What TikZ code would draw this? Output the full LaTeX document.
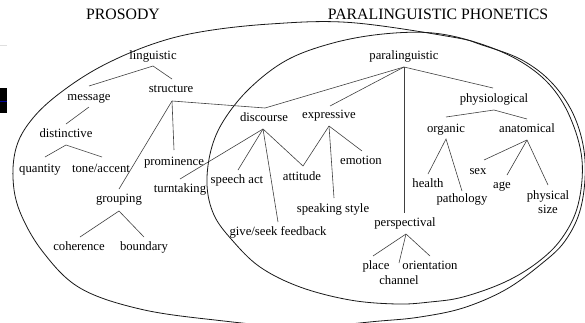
\documentclass[tikz,border=0pt]{standalone}
\usepackage{fontspec}
\setmainfont{Liberation Serif}
\usetikzlibrary{calc}
\newcommand{\lblfont}{\fontsize{12.7}{14.5}\selectfont}
\newcommand{\ttlfont}{\fontsize{15.8}{18}\selectfont}
\tikzset{
  lbl/.style={font=\lblfont, inner sep=0pt, text height=8.6pt, text depth=2.8pt},
  lblml/.style={font=\lblfont, inner sep=0pt, align=center},
  ttl/.style={font=\ttlfont, inner sep=0pt},
  conn/.style={draw=black!75, line width=0.6pt},
  ell/.style={draw=black!90, line width=0.8pt}
}
\begin{document}
\begin{tikzpicture}[x=1pt,y=-1pt]
\useasboundingbox (0,0) rectangle (585,322);
% artifact at left edge
\fill[black] (0,88) rectangle (7,113);
\draw[blue!60!black, line width=0.6pt] (0,101) -- (7,101);
\draw[gray!25, line width=0.6pt] (0,45) -- (7,45);

% ellipses
\draw[ell] plot[smooth cycle, tension=0.6] coordinates {
(13,178) (17,145) (33,118) (60,93) (100,67) (150,45) (200,32) (270,24) (350,22.5)
(452,37) (482,45) (522,60) (553,84) (575,118) (585,160) (581,207) (565,241)
(540,265) (505,290) (463,308) (420,317) (380,321) (300,327) (215,320) (140,309)
(80,288) (43,252) (20,212)};
\draw[ell] plot[smooth cycle, tension=0.6] coordinates {
(207,185) (211,150) (224,120) (250,88) (287,60) (333,43) (383,34) (433,33)
(478,43) (518,60) (549,84) (570,117) (582,160) (578,205) (562,238) (538,262)
(505,282) (463,297) (430,302) (397,304) (350,300) (300,287) (260,267) (232,240)
(214,215)};

% titles
\node[ttl] (prosody) at (123,14) {PROSODY};
\node[ttl] (paraphon) at (438,14) {PARALINGUISTIC PHONETICS};

% labels
\node[lbl] (linguistic) at (153,57) {linguistic};
\node[lbl] (structure) at (171,90) {structure};
\node[lbl] (message) at (89,98) {message};
\node[lbl] (distinctive) at (66,135) {distinctive};
\node[lbl] (quantity) at (40,170) {quantity};
\node[lbl] (toneaccent) at (101,170) {tone/accent};
\node[lbl] (prominence) at (174,163) {prominence};
\node[lbl] (turntaking) at (180,190) {turntaking};
\node[lbl] (grouping) at (119,200) {grouping};
\node[lbl] (coherence) at (79,248) {coherence};
\node[lbl] (boundary) at (144,248) {boundary};
\node[lbl] (discourse) at (264,119) {discourse};
\node[lbl] (expressive) at (329,116) {expressive};
\node[lbl] (speechact) at (237,181) {speech act};
\node[lbl] (attitude) at (302,178) {attitude};
\node[lbl] (emotion) at (361,162) {emotion};
\node[lbl] (speakingstyle) at (333,210) {speaking style};
\node[lbl] (feedback) at (278,233) {give/seek feedback};
\node[lbl] (paralinguistic) at (404,57) {paralinguistic};
\node[lbl] (physiological) at (494,100) {physiological};
\node[lbl] (organic) at (446,130) {organic};
\node[lbl] (anatomical) at (527,130) {anatomical};
\node[lbl] (sex) at (478,172) {sex};
\node[lbl] (health) at (428,185) {health};
\node[lbl] (pathology) at (462,200) {pathology};
\node[lbl] (age) at (502,186) {age};
\node[lblml] (physicalsize) at (548,202) {physical\\size};
\node[lbl] (perspectival) at (405,224) {perspectival};
\node[lbl] (place) at (376,267) {place};
\node[lbl] (orientation) at (430,267) {orientation};
\node[lbl] (channel) at (399,282) {channel};

% connectors
\draw[conn] ($(message)+(0,-12)$) -- ($(linguistic)+(0,9)$) -- ($(structure)+(1,-11)$);
\draw[conn] ($(message)+(0,9)$) -- ($(distinctive)+(0,-11)$);
\draw[conn] ($(quantity)+(5,-13)$) -- ($(distinctive)+(0,10)$) -- ($(toneaccent)+(1,-13)$);
\draw[conn] ($(structure)+(1,11)$) -- ($(discourse)+(1,-11)$) -- ($(paralinguistic)+(0,10)$);
\draw[conn] ($(structure)+(1,11)$) -- ($(prominence)+(0,-13)$);
\draw[conn] ($(structure)+(1,11)$) -- ($(grouping)+(0,-11)$);
\draw[conn] ($(coherence)+(1,-11)$) -- ($(grouping)+(0,11)$) -- ($(boundary)+(0,-11)$);
\draw[conn] ($(discourse)+(-1,10)$) -- ($(turntaking)+(0,-11)$);
\draw[conn] ($(discourse)+(-1,10)$) -- ($(speechact)+(1,-11)$);
\draw[conn] ($(discourse)+(-1,10)$) -- ($(feedback)+(0,-11)$);
\draw[conn] ($(discourse)+(-1,10)$) -- ($(attitude)+(1,-12)$) -- ($(expressive)+(0,10)$);
\draw[conn] ($(expressive)+(0,10)$) -- ($(speakingstyle)+(1,-12)$);
\draw[conn] ($(expressive)+(0,10)$) -- ($(emotion)+(1,-11)$);
\draw[conn] ($(paralinguistic)+(0,10)$) -- ($(expressive)+(1,-10)$);
\draw[conn] ($(paralinguistic)+(0,10)$) -- ($(perspectival)+(-1,-11)$);
\draw[conn] ($(paralinguistic)+(0,10)$) -- ($(physiological)+(-1,-12)$);
\draw[conn] ($(organic)+(0,-13)$) -- ($(physiological)+(0,10)$) -- ($(anatomical)+(0,-11)$);
\draw[conn] ($(health)+(0,-11)$) -- ($(organic)+(0,9)$) -- ($(pathology)+(0,-9)$);
\draw[conn] ($(anatomical)+(0,10)$) -- ($(sex)+(6,-12)$);
\draw[conn] ($(anatomical)+(0,10)$) -- ($(age)+(5,-11)$);
\draw[conn] ($(anatomical)+(0,10)$) -- ($(physicalsize)+(0,-17)$);
\draw[conn] ($(perspectival)+(1,10)$) -- ($(place)+(-3,-11)$);
\draw[conn] ($(perspectival)+(1,10)$) -- ($(channel)+(0,-19)$);
\draw[conn] ($(perspectival)+(1,10)$) -- ($(orientation)+(0,-11)$);
\end{tikzpicture}
\end{document}
